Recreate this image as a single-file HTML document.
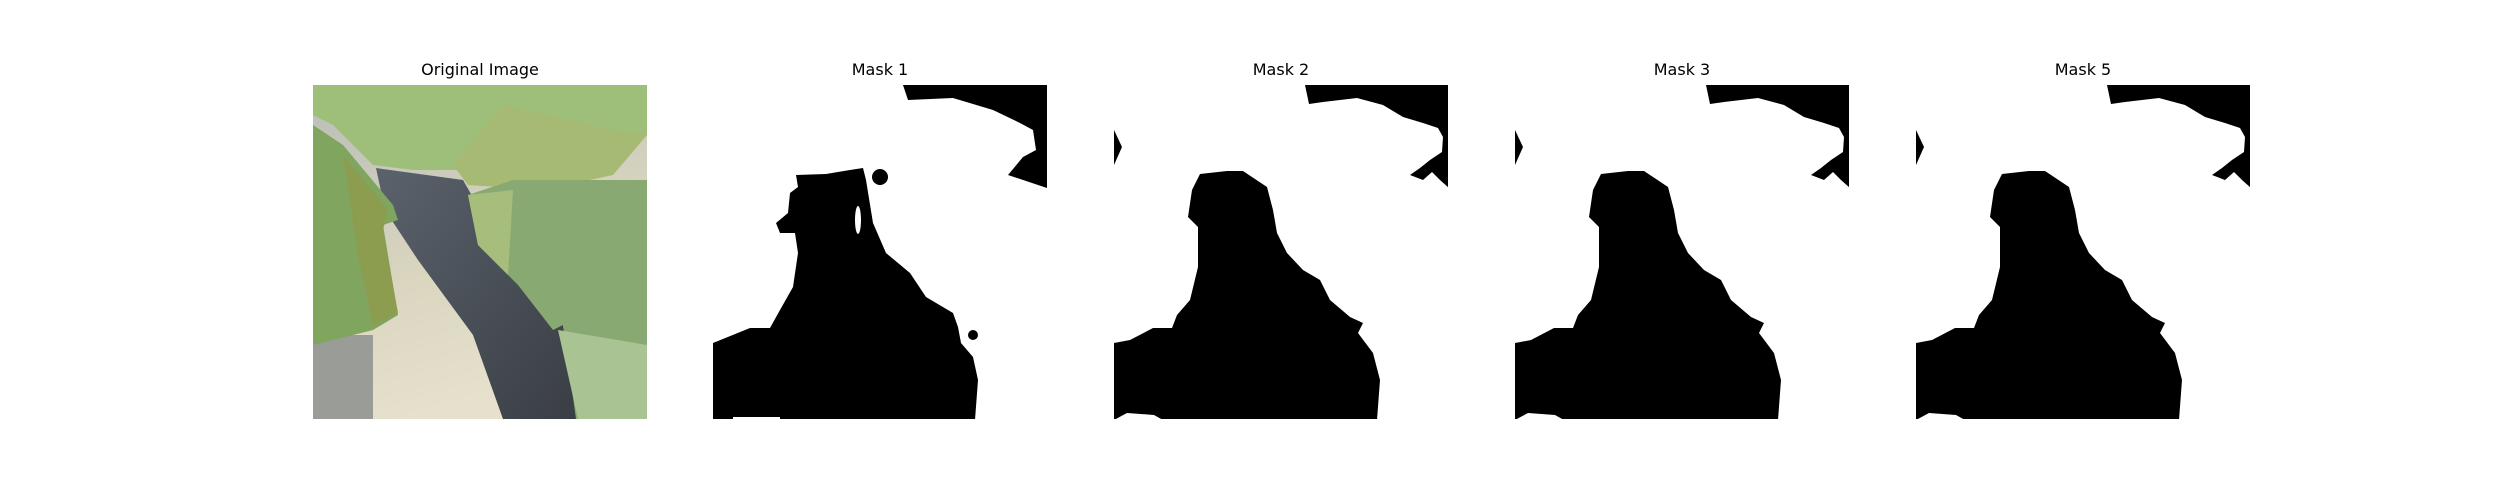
<!DOCTYPE html>
<html><head><meta charset="utf-8"><style>
html,body{margin:0;padding:0;background:#fff;}
#fig{position:relative;width:2500px;height:500px;overflow:hidden;font-family:"DejaVu Sans","Liberation Sans",sans-serif;}
.title{position:absolute;top:60px;width:334px;text-align:center;font-size:16px;color:#000;}
svg.panel{position:absolute;top:85px;width:334px;height:334px;}
</style></head><body>
<div id="fig">
<div class="title" style="left:313px">Original Image</div>
<div class="title" style="left:713px">Mask 1</div>
<div class="title" style="left:1114px">Mask 2</div>
<div class="title" style="left:1515px">Mask 3</div>
<div class="title" style="left:1916px">Mask 5</div>

<svg class="panel" style="left:313px" viewBox="0 0 334 334">
<defs>
<linearGradient id="bg" x1="0" y1="0" x2="0.3" y2="1"><stop offset="0" stop-color="#b9bdb8"/><stop offset="0.6" stop-color="#d9d5bf"/><stop offset="1" stop-color="#e6e1cc"/></linearGradient>
<linearGradient id="dk" x1="0" y1="0" x2="1" y2="1"><stop offset="0" stop-color="#5a626c"/><stop offset="1" stop-color="#3a3e44"/></linearGradient>
</defs>
<rect width="334" height="334" fill="url(#bg)"/>
<rect x="0" y="250" width="60" height="84" fill="#9a9c98"/>
<polygon points="63,83 150,95 170,130 250,240 265,334 190,334 160,250 105,175 72,125" fill="url(#dk)"/>
<polygon points="0,0 334,0 334,50 200,45 155,85 100,85 60,80 20,40 0,30" fill="#9dbf7a"/>
<polygon points="190,20 300,45 334,50 300,90 230,105 155,100 140,80" fill="#a6ba74"/>
<polygon points="0,40 30,60 80,120 85,135 70,140 85,230 60,245 40,250 0,260" fill="#7fa55f"/>
<polygon points="30,70 75,125 70,145 85,228 60,240 45,170" fill="#8c9d4f"/>
<polygon points="155,110 200,95 334,95 334,334 263,334 250,240 240,245 205,200 165,160" fill="#88aa72"/>
<polygon points="155,110 200,105 195,190 165,160" fill="#a7bd7c"/>
<polygon points="245,245 334,260 334,334 265,334" fill="#a9c492"/>
</svg>

<svg class="panel" style="left:713px" viewBox="0 0 334 334">
<rect width="334" height="334" fill="#fff"/>
<polygon points="190,0 195,15 240,13 280,25 307,38 320,45 323,65 310,72 295,90 334,103 334,0" fill="#000"/>
<polygon points="83,90 113,89 137,85 150,83 153,95 160,138 173,168 197,188 213,212 240,228 245,242 248,258 260,272 265,295 262,335 0,335 0,258 37,243 57,243 67,225 80,202 85,168 82,148 67,148 63,138 75,128 77,108 85,102" fill="#000"/>
<ellipse cx="145" cy="135" rx="3" ry="14" fill="#fff"/>
<circle cx="167" cy="92" r="8" fill="#000"/>
<circle cx="260" cy="250" r="5" fill="#000"/>
<rect x="20" y="332" width="47" height="2" fill="#fff"/>
</svg>

<svg class="panel" style="left:1114px" viewBox="0 0 334 334">
<rect width="334" height="334" fill="#fff"/>
<polygon points="191,0 195,19 209,17 243,13 269,20 289,32 309,38 324,43 329,52 328,67 316,75 306,83 296,90 309,95 318,87 326,95 335,103 335,0" fill="#000"/>
<polygon points="0,45 8,62 0,80" fill="#000"/>
<polygon points="86,89 113,86 129,86 153,102 159,125 163,148 173,168 189,185 206,195 216,215 236,232 249,238 244,248 259,268 266,295 263,335 49,335 40,330 13,328 0,335 0,258 16,255 39,243 58,243 63,230 76,215 84,182 84,142 74,132 78,105" fill="#000"/>
</svg>

<svg class="panel" style="left:1515px" viewBox="0 0 334 334">
<rect width="334" height="334" fill="#fff"/>
<polygon points="191,0 195,19 209,17 243,13 269,20 289,32 309,38 324,43 329,52 328,67 316,75 306,83 296,90 309,95 318,87 326,95 335,103 335,0" fill="#000"/>
<polygon points="0,45 8,62 0,80" fill="#000"/>
<polygon points="86,89 113,86 129,86 153,102 159,125 163,148 173,168 189,185 206,195 216,215 236,232 249,238 244,248 259,268 266,295 263,335 49,335 40,330 13,328 0,335 0,258 16,255 39,243 58,243 63,230 76,215 84,182 84,142 74,132 78,105" fill="#000"/>
</svg>

<svg class="panel" style="left:1916px" viewBox="0 0 334 334">
<rect width="334" height="334" fill="#fff"/>
<polygon points="191,0 195,19 209,17 243,13 269,20 289,32 309,38 324,43 329,52 328,67 316,75 306,83 296,90 309,95 318,87 326,95 335,103 335,0" fill="#000"/>
<polygon points="0,45 8,62 0,80" fill="#000"/>
<polygon points="86,89 113,86 129,86 153,102 159,125 163,148 173,168 189,185 206,195 216,215 236,232 249,238 244,248 259,268 266,295 263,335 49,335 40,330 13,328 0,335 0,258 16,255 39,243 58,243 63,230 76,215 84,182 84,142 74,132 78,105" fill="#000"/>
</svg>
</div>
</body></html>
